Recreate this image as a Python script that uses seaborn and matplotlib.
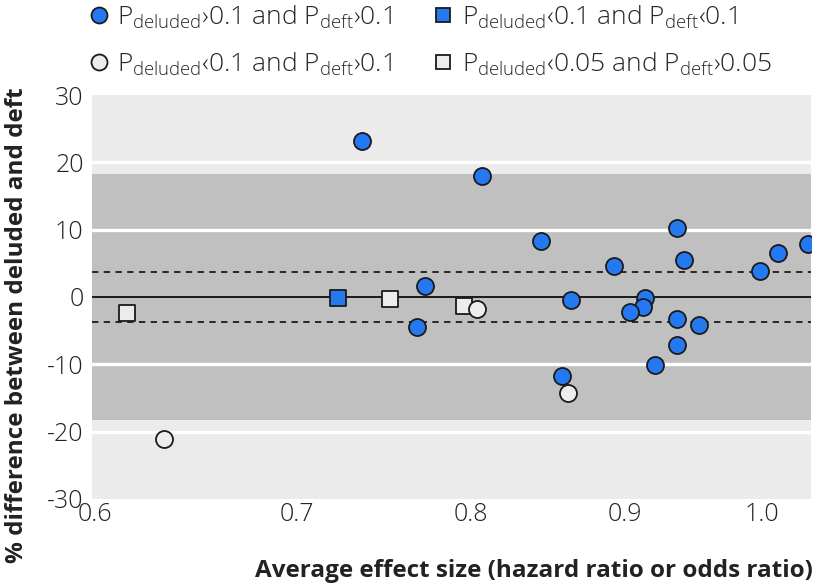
import matplotlib
matplotlib.use("Agg")
import matplotlib.pyplot as plt
import seaborn as sns
import pandas as pd
import numpy as np
from matplotlib.lines import Line2D

# Data
blue_circ_x = [0.736, 0.807, 0.844, 0.937, 0.942, 0.893, 0.998, 1.012, 1.036, 0.7725,
               0.768, 0.864, 0.914, 0.9126, 0.904, 0.937, 0.9525, 0.9366, 0.921, 0.858]
blue_circ_y = [23.2, 18.0, 8.3, 10.3, 5.5, 4.65, 3.9, 6.5, 7.9, 1.6,
               -4.4, -0.5, -0.2, -1.5, -2.2, -3.3, -4.2, -7.2, -10.1, -11.8]
blue_sq_x = [0.7226]
blue_sq_y = [-0.2]
white_sq_x = [0.615, 0.752, 0.796]
white_sq_y = [-2.4, -0.35, -1.3]
white_circ_x = [0.6326, 0.8037, 0.862]
white_circ_y = [-21.1, -1.8, -14.3]

mean_diff = 0.0
inner_limit = 3.7
outer_limit = 18.3

x_ticks = [0.6, 0.7, 0.8, 0.9, 1.0]
x_ticklabels = ["0.6", "0.7", "0.8", "0.9", "1.0"]
y_ticks = [-30, -20, -10, 0, 10, 20, 30]

labels = [r"P$_{\mathregular{deluded}}$›0.1 and P$_{\mathregular{deft}}$›0.1",
          r"P$_{\mathregular{deluded}}$‹0.1 and P$_{\mathregular{deft}}$›0.1",
          r"P$_{\mathregular{deluded}}$‹0.1 and P$_{\mathregular{deft}}$‹0.1",
          r"P$_{\mathregular{deluded}}$‹0.05 and P$_{\mathregular{deft}}$›0.05"]

sns.set_style("white")
plt.rcParams['font.family'] = ['Open Sans', 'DejaVu Sans']
plt.rcParams['mathtext.fontset'] = 'custom'
plt.rcParams['mathtext.rm'] = 'Open Sans:light'

BLUE = "#2479f0"
WHITE = "#ececec"
EDGE = "#1a1a1a"
TXT = "#222222"

fig = plt.figure(figsize=(8.2, 5.88), dpi=100)
ax = fig.add_axes([0.1122, 0.1514, 0.989 - 0.1122, 0.8384 - 0.1514])
ax.set_facecolor("#ebebeb")

ax.axhspan(-outer_limit, outer_limit, color="#c0c0c0", zorder=0.5, lw=0)
for yv in [-20, -10, 10, 20]:
    ax.axhline(yv, color="white", lw=2.4, zorder=0.8)
ax.axhline(mean_diff, color="#1a1a1a", lw=1.4, zorder=1)
ax.axhline(inner_limit, color="#1a1a1a", lw=1.3, ls=(0, (3.5, 3)), zorder=1)
ax.axhline(-inner_limit, color="#1a1a1a", lw=1.3, ls=(0, (3.5, 3)), zorder=1)

sns.scatterplot(x=blue_sq_x, y=blue_sq_y, marker="s", s=125, color=BLUE,
                edgecolor=EDGE, linewidth=1.3, ax=ax, zorder=3)
sns.scatterplot(x=white_sq_x, y=white_sq_y, marker="s", s=125, color=WHITE,
                edgecolor=EDGE, linewidth=1.3, ax=ax, zorder=3)
sns.scatterplot(x=white_circ_x, y=white_circ_y, marker="o", s=150, color=WHITE,
                edgecolor=EDGE, linewidth=1.3, ax=ax, zorder=3)
sns.scatterplot(x=blue_circ_x, y=blue_circ_y, marker="o", s=150, color=BLUE,
                edgecolor=EDGE, linewidth=1.3, ax=ax, zorder=4)

ax.set_xscale("log")
ax.set_xlim(0.5986, 1.038)
ax.set_ylim(-30, 30)
ax.set_xticks(x_ticks)
ax.set_xticklabels(x_ticklabels, fontweight="light")
ax.xaxis.set_minor_locator(matplotlib.ticker.NullLocator())
ax.set_yticks(y_ticks)
ax.set_yticklabels([str(v) for v in y_ticks], fontweight="light")
ax.tick_params(axis="x", direction="in", length=8, width=2, color="white",
               labelsize=18, labelcolor=TXT, pad=2)
ax.tick_params(axis="y", length=0, labelsize=18, labelcolor=TXT, pad=6)
for s in ax.spines.values():
    s.set_visible(False)

ax.set_xlabel("Average effect size (hazard ratio or odds ratio)", fontsize=17.5,
              fontweight="bold", color=TXT)
ax.xaxis.set_label_coords(1.003, -0.148)
ax.xaxis.label.set_horizontalalignment("right")
ax.xaxis.label.set_verticalalignment("top")
ax.set_ylabel("% difference between deluded and deft", fontsize=17.5,
              fontweight="bold", color=TXT)
ax.yaxis.set_label_coords(-0.088, 0.43)

handles = [
    Line2D([], [], ls="none", marker="o", markersize=11.5, markerfacecolor=BLUE,
           markeredgecolor=EDGE, markeredgewidth=1.3),
    Line2D([], [], ls="none", marker="o", markersize=11.5, markerfacecolor=WHITE,
           markeredgecolor=EDGE, markeredgewidth=1.3),
    Line2D([], [], ls="none", marker="s", markersize=10, markerfacecolor=BLUE,
           markeredgecolor=EDGE, markeredgewidth=1.3),
    Line2D([], [], ls="none", marker="s", markersize=10, markerfacecolor=WHITE,
           markeredgecolor=EDGE, markeredgewidth=1.3),
]
leg = fig.legend(handles, labels, ncol=2, loc="upper left", bbox_to_anchor=(0.0767, 1.035),
                 frameon=False, fontsize=19, handletextpad=0.25, columnspacing=1.5,
                 labelspacing=0.75, handlelength=0.9)
for t in leg.get_texts():
    t.set_fontweight("light")

fig.savefig("out.png", dpi=100)
